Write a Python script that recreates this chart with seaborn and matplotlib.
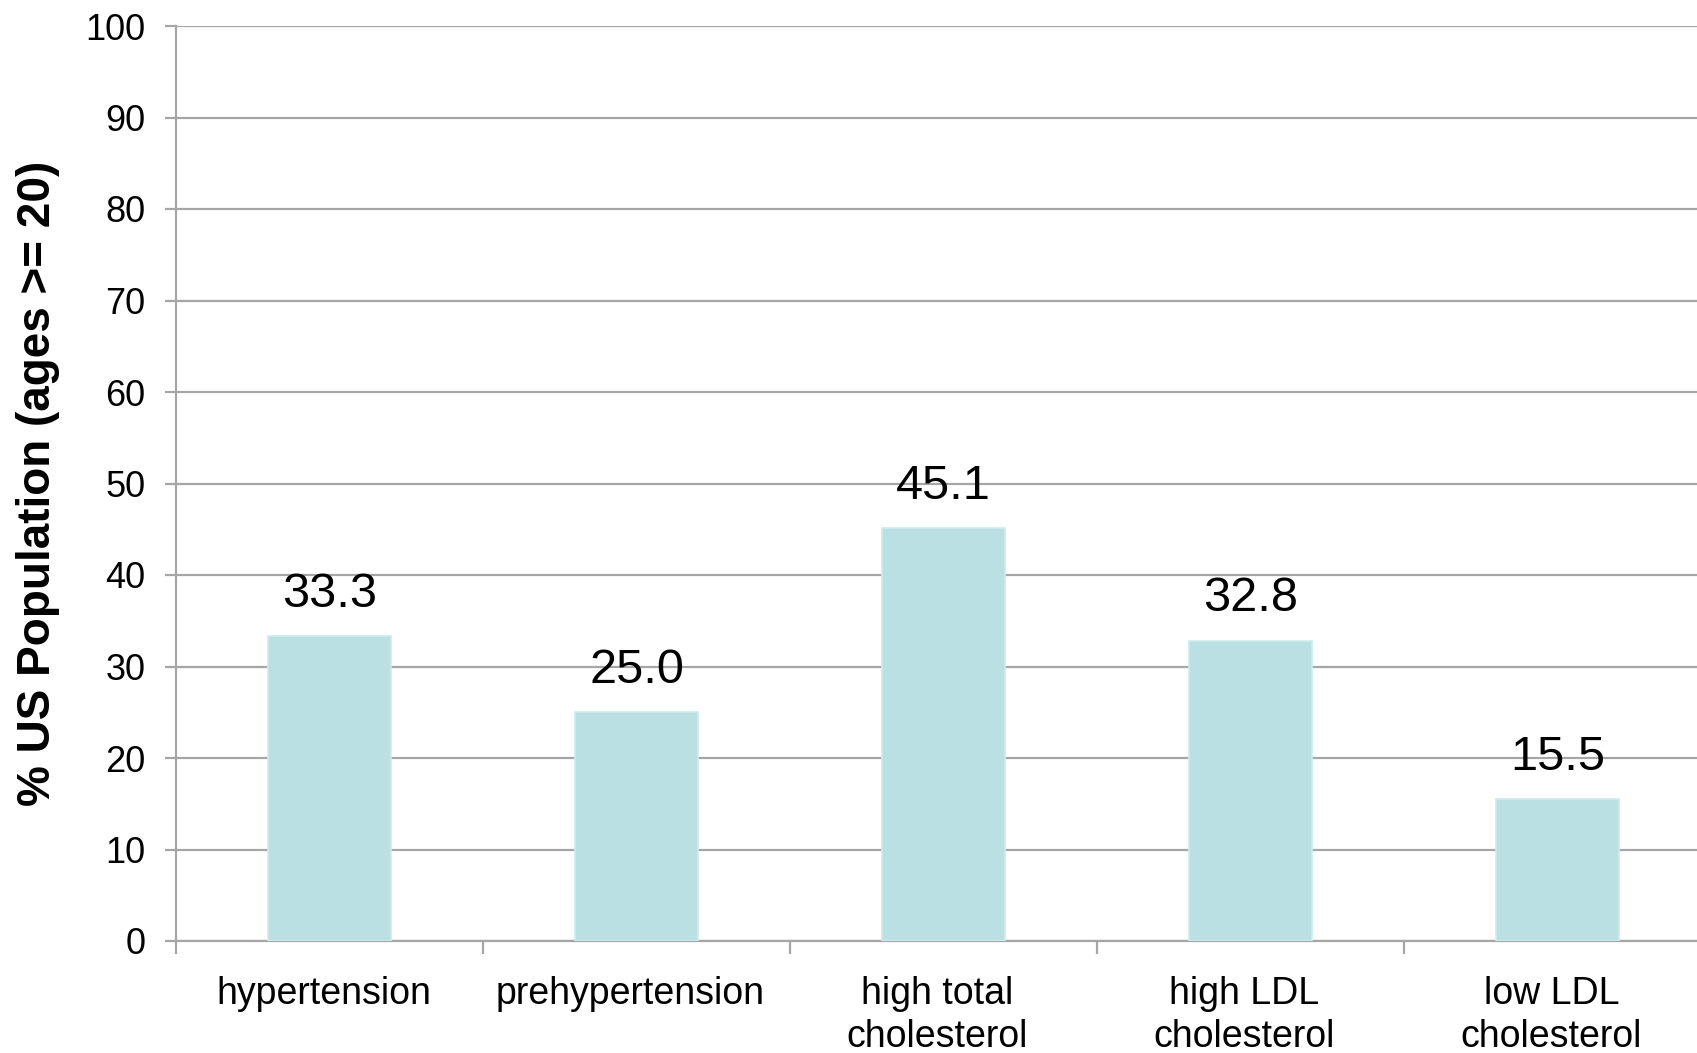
import matplotlib
matplotlib.use("Agg")
import matplotlib.pyplot as plt
import matplotlib.transforms as mtransforms
import seaborn as sns
import pandas as pd
import numpy as np

categories = ["hypertension", "prehypertension", "high total\ncholesterol",
              "high LDL\ncholesterol", "low LDL\ncholesterol"]
values = [33.3, 25.0, 45.1, 32.8, 15.5]
value_labels = ["33.3", "25.0", "45.1", "32.8", "15.5"]
y_ticks = [0, 10, 20, 30, 40, 50, 60, 70, 80, 90, 100]
y_label = "% US Population (ages >= 20)"

sns.set_theme(style="white")
plt.rcParams["font.family"] = ["Liberation Sans", "DejaVu Sans"]

W, H, DPI = 1697, 1053, 100
fig = plt.figure(figsize=(W / DPI, H / DPI), dpi=DPI)
left, right, top, bottom = 176, 1697, 26, 941
ax = fig.add_axes([left / W, 1 - bottom / H, (right - left) / W, (bottom - top) / H])

df = pd.DataFrame({"category": categories, "value": values})
grid_color = "#A6A6A6"
bar_color = "#BAE0E3"

sns.barplot(data=df, x="category", y="value", color=bar_color, width=0.4,
            saturation=1, edgecolor="#CDEBED", linewidth=1.2, ax=ax, zorder=3)

# horizontal gridlines behind bars
ax.set_axisbelow(True)
ax.yaxis.grid(True, color=grid_color, linewidth=1.6)
ax.xaxis.grid(False)

ax.set_ylim(0, 100)
ax.set_yticks(y_ticks)
ax.set_yticklabels([str(t) for t in y_ticks], fontsize=26)

for side in ["top", "right"]:
    ax.spines[side].set_visible(False)
for side in ["left", "bottom"]:
    ax.spines[side].set_color(grid_color)
    ax.spines[side].set_linewidth(1.6)

n = len(categories)
ax.tick_params(axis="y", which="major", direction="out", length=8,
               width=1.6, color=grid_color, left=True, pad=14, labelcolor="black")
ax.set_xticks(range(n))
ax.set_xticklabels(categories, fontsize=27, linespacing=1.27)
ax.tick_params(axis="x", which="major", length=0, pad=25, labelcolor="black")
# nudge category labels slightly left
shift = mtransforms.ScaledTranslation(-6 / DPI, 0, fig.dpi_scale_trans)
for lbl in ax.get_xticklabels():
    lbl.set_transform(lbl.get_transform() + shift)
# category separators
ax.set_xticks(np.arange(-0.5, n - 0.5, 1.0), minor=True)
ax.tick_params(axis="x", which="minor", direction="out", length=9,
               width=1.6, color=grid_color, bottom=True)

# the category area runs past the right edge of the figure
slot_px = 307
ax.set_xlim(-0.5, -0.5 + (right - left) / slot_px)

ax.set_xlabel("")
ax.set_ylabel(y_label, fontsize=33, fontweight="bold", color="black")
ax.yaxis.set_label_coords(-0.076, 0.5)

for i, (v, lab) in enumerate(zip(values, value_labels)):
    ax.annotate(lab, xy=(i, v), xytext=(0, 14), textcoords="offset points",
                ha="center", va="bottom", fontsize=35, color="black")

fig.savefig("out.png", dpi=DPI)
